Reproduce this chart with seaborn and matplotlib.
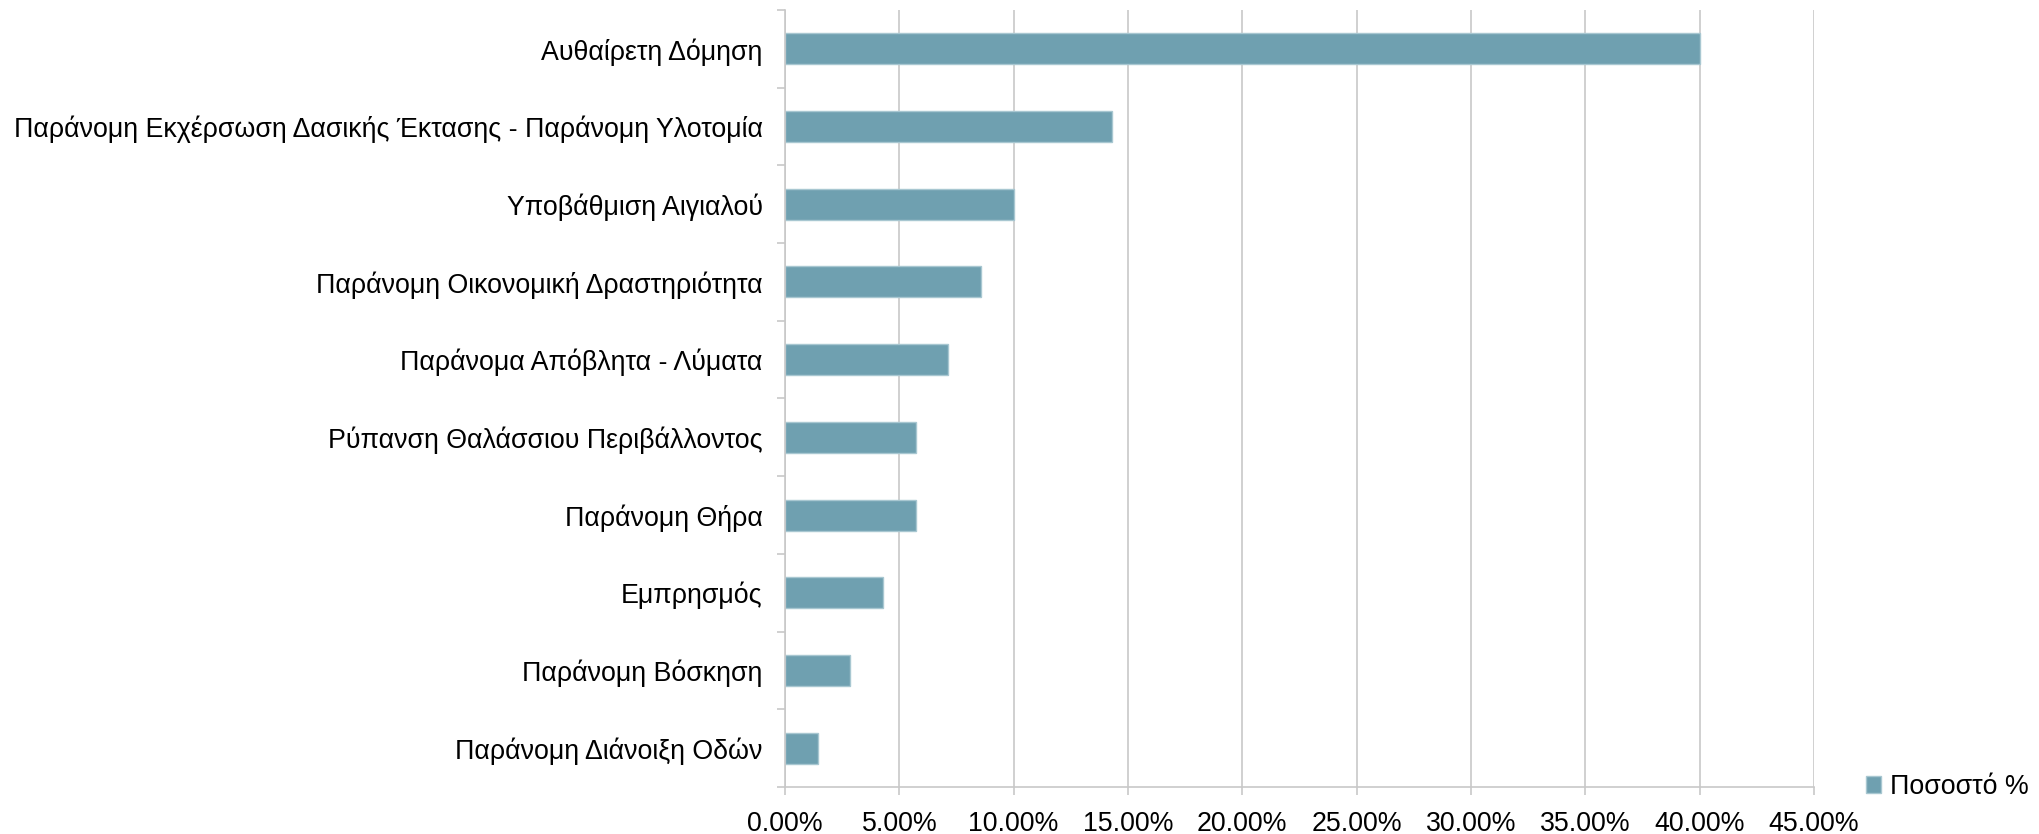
import matplotlib
matplotlib.use("Agg")
import matplotlib.pyplot as plt
import numpy as np
import pandas as pd
import seaborn as sns
from matplotlib.ticker import FuncFormatter, FixedLocator

# categories and share of cases (fraction)
categories = [
    "Αυθαίρετη Δόμηση",
    "Παράνομη Εκχέρσωση Δασικής Έκτασης - Παράνομη Υλοτομία",
    "Υποβάθμιση Αιγιαλού",
    "Παράνομη Οικονομική Δραστηριότητα",
    "Παράνομα Απόβλητα - Λύματα",
    "Ρύπανση Θαλάσσιου Περιβάλλοντος",
    "Παράνομη Θήρα",
    "Εμπρησμός",
    "Παράνομη Βόσκηση",
    "Παράνομη Διάνοιξη Οδών",
]
shares = [0.4000, 0.1429, 0.1000, 0.0857, 0.0714, 0.0571, 0.0571, 0.0429, 0.0286, 0.0143]
series_name = "Ποσοστό %"
x_ticks = [0.0, 0.05, 0.10, 0.15, 0.20, 0.25, 0.30, 0.35, 0.40, 0.45]

sns.set_theme(style="white")
plt.rcParams["font.family"] = ["Liberation Sans", "DejaVu Sans"]
plt.rcParams["text.color"] = "black"
plt.rcParams["xtick.color"] = "black"
plt.rcParams["ytick.color"] = "black"

data = pd.DataFrame({"category": categories, "share": shares, "series": series_name})

bar_color = "#6fa0b0"
grid_color = "#c8c8c8"
fs = 19.3

fig = plt.figure(figsize=(20.39, 8.34), dpi=100)
ax = fig.add_axes([785 / 2039, 47 / 834, 1029 / 2039, 777 / 834])

sns.barplot(
    data=data,
    x="share",
    y="category",
    hue="series",
    palette=[bar_color],
    saturation=1,
    orient="h",
    width=0.4,
    edgecolor="#a8c7d1",
    linewidth=1,
    ax=ax,
)

ax.set_xlim(0, 0.45)
ax.set_ylim(len(categories) - 0.5, -0.5)
ax.xaxis.set_major_locator(FixedLocator(x_ticks))
ax.xaxis.set_major_formatter(FuncFormatter(lambda v, p: f"{v * 100:.2f}%"))
ax.grid(axis="x", color=grid_color, linewidth=1.2)
ax.set_axisbelow(True)
ax.set_xlabel("")
ax.set_ylabel("")

for side in ["top", "right"]:
    ax.spines[side].set_visible(False)
for side in ["left", "bottom"]:
    ax.spines[side].set_color(grid_color)
    ax.spines[side].set_linewidth(1.2)

ax.tick_params(axis="x", length=6, width=1.2, color=grid_color, labelsize=fs,
               labelcolor="black", pad=11, bottom=True)
ax.tick_params(axis="y", which="major", length=0, labelsize=fs, labelcolor="black", pad=16)
ax.yaxis.set_minor_locator(FixedLocator(np.arange(-0.5, len(categories), 1.0)))
ax.tick_params(axis="y", which="minor", length=6, width=1.2, color=grid_color, left=True)

leg = ax.legend(
    loc="center left",
    bbox_to_anchor=(1.04, 0.0),
    frameon=False,
    fontsize=fs,
    handlelength=0.55,
    handleheight=0.55,
    handletextpad=0.35,
    borderaxespad=0,
)

fig.savefig("out.png", dpi=100)
